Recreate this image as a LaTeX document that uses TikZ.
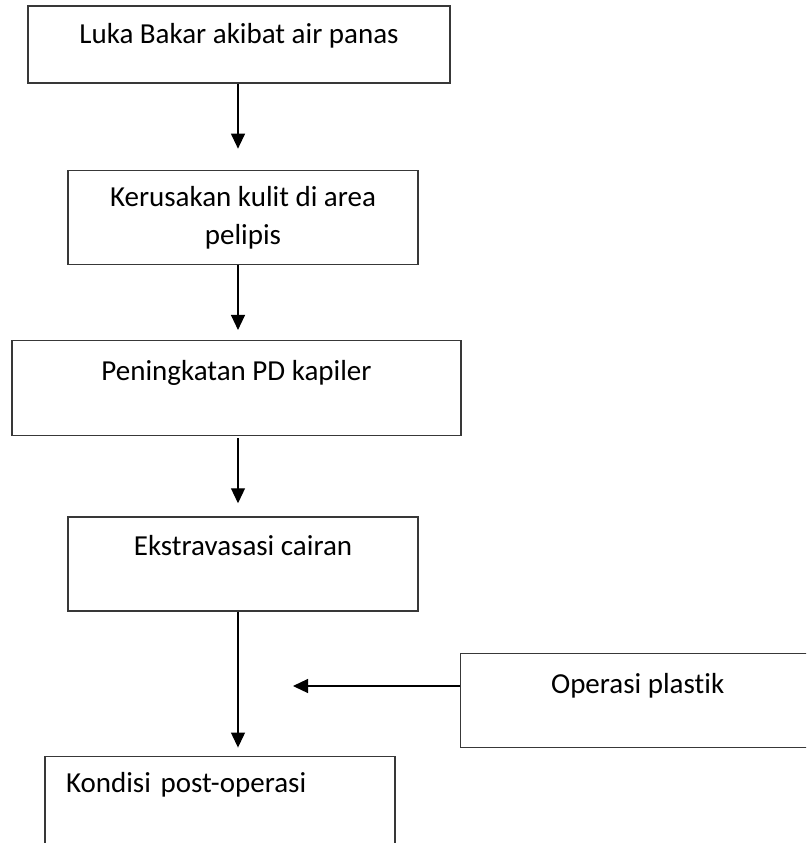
\documentclass[tikz,border=0pt]{standalone}
\usepackage{fontspec}
\setmainfont{Carlito}[Ligatures=NoCommon]
\usepackage{tikz}
\usetikzlibrary{positioning, arrows.meta}

\begin{document}
\begin{tikzpicture}[
        x=1pt, y=-1pt,
        every node/.style={font=\fontsize{29}{38}\selectfont, align=center},
        box/.style={rectangle, draw=black!78, line width=1.3pt, inner ysep=0pt, minimum width=350pt},
        arrow/.style={-{Triangle[length=15pt, width=14pt]}, line width=1.2pt}
    ]
    \path[use as bounding box, clip] (0,0) rectangle (806,843);

    % Main chain
    \node[box, anchor=base, minimum width=422pt, text height=38pt, text depth=39pt] (luka) at (239,44) {Luka Bakar akibat air panas};
    \node[box, below=86pt of luka, xshift=4pt, minimum height=94pt] (kerusakan) {Kerusakan kulit di area\\pelipis};
    \node[box, below=75pt of kerusakan, xshift=-6.5pt, minimum width=449pt, text height=40pt, text depth=55pt] (peningkatan) {Peningkatan PD kapiler};
    \node[box, below=80pt of peningkatan, xshift=6.5pt, text height=39pt, text depth=55pt] (ekstravasasi) {Ekstravasasi cairan};
    \node[box, below=144pt of ekstravasasi, xshift=-23pt, inner xsep=21pt, text width=308pt, align=left, text height=36pt, text depth=74pt] (kondisi) {Kondisi post-operasi};

    % Side input
    \node[box, anchor=north west, minimum width=354pt, text height=40pt, text depth=54pt] (operasi) at (460,653) {Operasi plastik};

    % Arrows
    \coordinate (spine) at (238,0);
    \coordinate (join) at (293,686);
    \draw[arrow, shorten >=21pt] (luka.south -| spine) -- (kerusakan.north -| spine);
    \draw[arrow, shorten >=10pt] (kerusakan.south -| spine) -- (peningkatan.north -| spine);
    \draw[arrow, shorten <=2pt, shorten >=13pt] (peningkatan.south -| spine) -- (ekstravasasi.north -| spine);
    \draw[arrow, shorten >=8pt] (ekstravasasi.south -| spine) -- (kondisi.north -| spine);
    \draw[arrow] (operasi.west |- join) -- (join);

\end{tikzpicture}
\end{document}
